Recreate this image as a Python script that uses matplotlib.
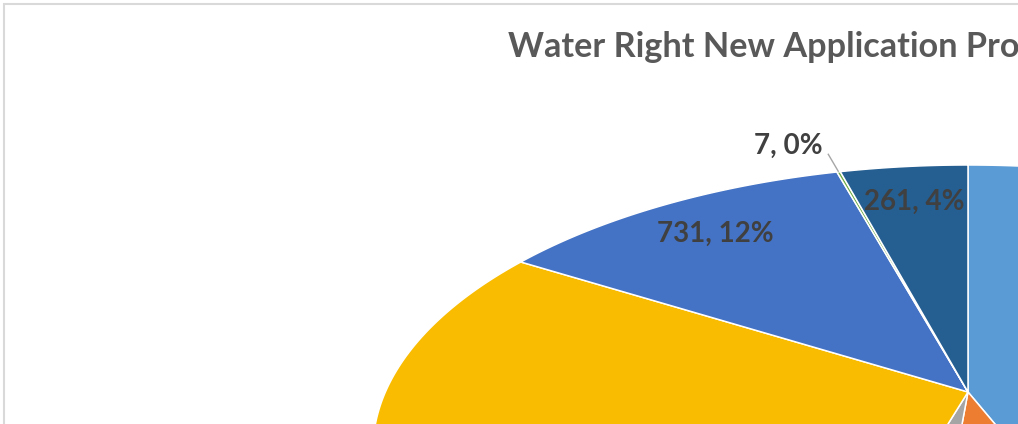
import numpy as np
import matplotlib
matplotlib.use("Agg")
import matplotlib.pyplot as plt
import matplotlib.transforms as mtransforms
from matplotlib.path import Path
from matplotlib.patches import Rectangle

plt.rcParams['font.family'] = ['Lato', 'DejaVu Sans']

# ---- data (slices clockwise from 12 o'clock) ----
values = [2720, 455, 195, 1810, 731, 7, 261]
colors = ['#5B9BD5', '#ED7D31', '#A5A5A5', '#F9BC00', '#4472C4', '#70AD47', '#255E91']
title_text = "Water Right New Application Pro"

W, H = 1018, 424


class Perspective(mtransforms.Transform):
    """Tilted-disc (3-D pie top face) projection of unit-circle coordinates."""
    input_dims = 2
    output_dims = 2
    is_separable = False
    has_inverse = False

    def __init__(self, cx, cy, a, b, k):
        super().__init__()
        self.cx, self.cy, self.a, self.b, self.k = cx, cy, a, b, k

    def transform_non_affine(self, values):
        values = np.asarray(values, float).reshape(-1, 2)
        u, v = values[:, 0], values[:, 1]
        d = 1.0 + self.k * v
        return np.column_stack([self.cx + self.a * u / d, self.cy - self.b * v / d])

    def transform_path_non_affine(self, path):
        pts, codes = [], []
        for seg, code in path.iter_bezier():
            cp = seg.control_points
            if code == Path.MOVETO:
                pts.append(cp[0])
                codes.append(Path.MOVETO)
            else:
                t = np.linspace(0, 1, 41)[1:]
                p = seg(t)
                pts.extend(p)
                codes.extend([Path.LINETO] * len(p))
        return Path(self.transform_non_affine(np.array(pts)), codes)


fig = plt.figure(figsize=(W / 100, H / 100), dpi=100)
fig.patch.set_facecolor('white')
ax = fig.add_axes([0, 0, 1, 1])

wedges, _ = ax.pie(values, colors=colors, startangle=90, counterclock=False,
                   wedgeprops=dict(edgecolor='white', linewidth=1.1))
ax.set_aspect('auto')
ax.set_xlim(0, W)
ax.set_ylim(H, 0)
ax.axis('off')

persp = Perspective(968, 392, 582.6, 273.2, 0.2035)
tr = persp + ax.transData
for w in wedges:
    w.set_transform(tr)

total = float(sum(values))
label_color = '#404040'
for w, val in zip(wedges, values):
    pct = val / total * 100
    txt = f"{val}, {pct:.0f}%"
    mid = np.deg2rad((w.theta1 + w.theta2) / 2)
    if pct >= 1:
        r = 0.82
        ax.text(r * np.cos(mid), r * np.sin(mid), txt, transform=tr,
                ha='center', va='center', fontsize=20, fontweight='bold',
                color=label_color)
    else:
        r0, r1 = 1.0, 1.10
        ax.plot([r0 * np.cos(mid), r1 * np.cos(mid)],
                [r0 * np.sin(mid), r1 * np.sin(mid)],
                transform=tr, color='#A6A6A6', lw=1.0, solid_capstyle='butt')
        ax.annotate(txt, xy=(r1 * np.cos(mid), r1 * np.sin(mid)), xycoords=tr,
                    xytext=(-4, 0), textcoords='offset points',
                    ha='right', va='baseline', fontsize=20, fontweight='bold',
                    color=label_color)

# chart-area border (continues beyond the visible crop)
fig.patches.append(Rectangle((3.5 / W, -1), 2, (H - 3.5) / H + 1,
                             transform=fig.transFigure, fill=False,
                             edgecolor='#D9D9D9', linewidth=1.5))

# title, fitted so that it reaches the right edge
t = fig.text(508 / W, (H - 57) / H, title_text, ha='left', va='baseline',
             fontsize=22, fontweight='bold', color='#595959')
fig.canvas.draw()
bb = t.get_window_extent()
t.set_fontsize(22 * (W - 508) / bb.width)

fig.savefig('out.png', dpi=100)
